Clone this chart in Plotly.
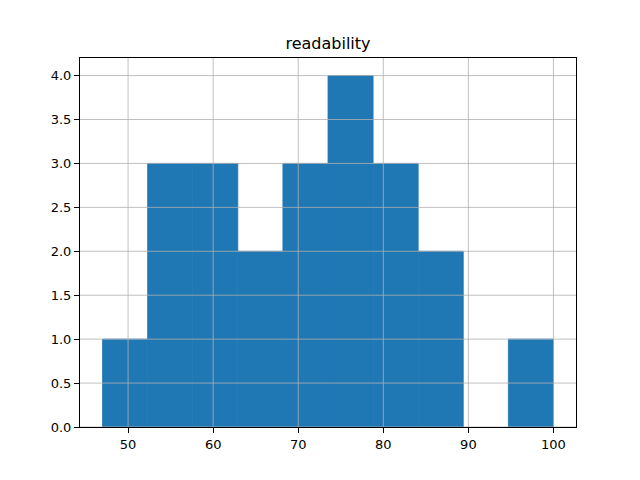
import plotly.graph_objects as go
import numpy as np

# Histogram of "readability": 10 equal bins between min and max
bin_start = 47.0
bin_end = 100.0
counts = [1, 3, 3, 2, 3, 4, 3, 2, 0, 1]
x_ticks = [50, 60, 70, 80, 90, 100]
y_ticks = [0.0, 0.5, 1.0, 1.5, 2.0, 2.5, 3.0, 3.5, 4.0]

n = len(counts)
edges = np.linspace(bin_start, bin_end, n + 1)
centers = (edges[:-1] + edges[1:]) / 2
width = edges[1] - edges[0]
line_widths = [0.8 if c > 0 else 0 for c in counts]

fig = go.Figure(go.Bar(
    x=centers, y=counts, width=width,
    marker=dict(color="#1f77b4", line=dict(width=line_widths, color="#1f77b4")),
    hoverinfo="skip",
))

span = bin_end - bin_start
xr = [bin_start - 0.05 * span, bin_end + 0.05 * span]
yr = [0, max(counts) * 1.05]

grid = dict(color="#b0b0b0", width=0.8)
shapes = []
for t in x_ticks:
    shapes.append(dict(type="line", xref="x", yref="paper", x0=t, x1=t, y0=0, y1=1,
                       line=grid, layer="above"))
for t in y_ticks:
    shapes.append(dict(type="line", xref="paper", yref="y", x0=0, x1=1, y0=t, y1=t,
                       line=grid, layer="above"))

font = dict(family="DejaVu Sans", size=13, color="black")
fig.update_layout(
    width=640, height=480,
    margin=dict(l=72, r=72, t=50, b=61),
    paper_bgcolor="white", plot_bgcolor="white",
    showlegend=False,
    font=font,
    title=dict(text="readability", x=0.5, xref="paper", y=1 - 35 / 480, yref="container",
               xanchor="center", yanchor="middle", font=dict(family="DejaVu Sans", size=16, color="black")),
    shapes=shapes,
    xaxis=dict(range=xr, tickvals=x_ticks, ticktext=[str(t) for t in x_ticks],
               showgrid=False, zeroline=False, showline=True, linecolor="black", linewidth=1,
               mirror=True, ticks="outside", ticklen=5, tickcolor="black", tickwidth=1,
               tickfont=font),
    yaxis=dict(range=yr, tickvals=y_ticks, ticktext=[f"{t:.1f}" for t in y_ticks],
               showgrid=False, zeroline=False, showline=True, linecolor="black", linewidth=1,
               mirror=True, ticks="outside", ticklen=5, tickcolor="black", tickwidth=1,
               tickfont=font),
)

fig.write_html("out.html")
